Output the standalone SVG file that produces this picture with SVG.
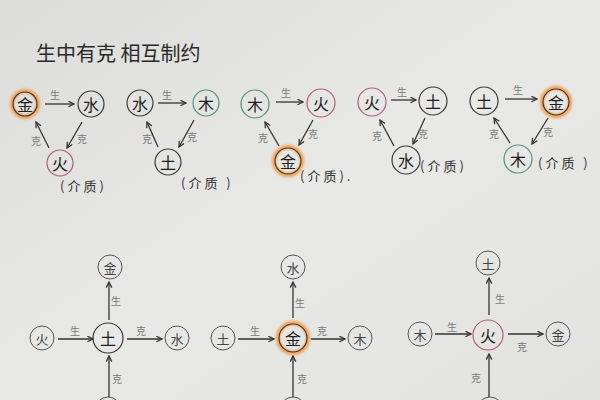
<svg xmlns="http://www.w3.org/2000/svg" width="600" height="400" viewBox="0 0 600 400">
<defs>
<linearGradient id="bg" x1="0" y1="0" x2="1" y2="1">
<stop offset="0" stop-color="#dcdcda"/>
<stop offset="0.5" stop-color="#e8e8e6"/>
<stop offset="1" stop-color="#e2e2e0"/>
</linearGradient>
<marker id="ah" viewBox="0 0 10 10" refX="9" refY="5" markerWidth="7" markerHeight="7" orient="auto" markerUnits="userSpaceOnUse">
<path d="M1,1 L9,5 L1,9" fill="none" stroke="#333" stroke-width="1.8"/>
</marker>
<filter id="glow" x="-50%" y="-50%" width="200%" height="200%"><feGaussianBlur stdDeviation="1.2"/></filter>
</defs>
<style>
.n{fill:none;stroke:#3a3a3a;stroke-width:1.2}
.nl{fill:none;stroke:#555;stroke-width:1}
.fire{stroke:#b25d78}
.wood{stroke:#4f9479}
.halo{fill:none;stroke:#f2a65a;stroke-width:4.5;filter:url(#glow)}
.t{font-family:"Noto Sans CJK SC","Noto Sans CJK JP",sans-serif;fill:#1e1e1e;text-anchor:middle;dominant-baseline:central}
.big{font-size:16px}
.sm{font-size:13px;fill:#444}
.lab{font-family:"Noto Sans CJK SC",sans-serif;font-size:10px;fill:#7a7a7a;text-anchor:middle;dominant-baseline:central}
.note{font-family:"Noto Sans CJK SC",sans-serif;font-size:13px;fill:#333;letter-spacing:3px}
.title{font-family:"Noto Sans CJK SC",sans-serif;font-size:20px;fill:#2a2a2a}
.c line{stroke:#333;stroke-width:1.3;marker-end:url(#ah)}
</style>
<rect width="600" height="400" fill="url(#bg)"/>
<text class="title" x="36" y="61">生中有克 相互制约</text>

<!-- Top row diagram 1 -->
<g id="d1-jin"><circle class="halo" cx="25" cy="104" r="13"/><circle class="n" cx="25" cy="104" r="12"/><text class="t big" x="25" y="104">金</text></g>
<g id="d1-shui"><circle class="n" cx="91" cy="104" r="13"/><text class="t big" x="91" y="104">水</text></g>
<g id="d1-huo"><circle class="n fire" cx="60" cy="163" r="13"/><text class="t big" x="60" y="163">火</text></g>
<text class="note" x="60" y="191">(介质)</text>

<!-- diagram 2 -->
<g id="d2-shui"><circle class="n" cx="140" cy="103" r="13"/><text class="t big" x="140" y="103">水</text></g>
<g id="d2-mu"><circle class="n wood" cx="206" cy="103" r="13"/><text class="t big" x="206" y="103">木</text></g>
<g id="d2-tu"><circle class="n" cx="168" cy="162" r="13"/><text class="t big" x="168" y="162">土</text></g>
<text class="note" x="181" y="188">(介质 )</text>

<!-- diagram 3 -->
<g id="d3-mu"><circle class="n wood" cx="255" cy="104" r="14"/><text class="t big" x="255" y="104">木</text></g>
<g id="d3-huo"><circle class="n fire" cx="321" cy="103" r="14"/><text class="t big" x="321" y="103">火</text></g>
<g id="d3-jin"><circle class="halo" cx="288" cy="161" r="14"/><circle class="n" cx="288" cy="161" r="13"/><text class="t big" x="288" y="161">金</text></g>
<text class="note" x="300" y="181">(介质).</text>

<!-- diagram 4 -->
<g id="d4-huo"><circle class="n fire" cx="372" cy="102" r="14"/><text class="t big" x="372" y="102">火</text></g>
<g id="d4-tu"><circle class="n" cx="433" cy="101" r="14"/><text class="t big" x="433" y="101">土</text></g>
<g id="d4-shui"><circle class="n" cx="406" cy="160" r="14"/><text class="t big" x="406" y="160">水</text></g>
<text class="note" x="420" y="171">(介质)</text>

<!-- diagram 5 -->
<g id="d5-tu"><circle class="n" cx="484" cy="101" r="14"/><text class="t big" x="484" y="101">土</text></g>
<g id="d5-jin"><circle class="halo" cx="556" cy="102" r="14"/><circle class="n" cx="556" cy="102" r="13"/><text class="t big" x="556" y="102">金</text></g>
<g id="d5-mu"><circle class="n wood" cx="518" cy="159" r="14"/><text class="t big" x="518" y="159">木</text></g>
<text class="note" x="538" y="168">(介质 )</text>

<!-- Bottom row A -->
<g id="a-tu"><circle class="n" cx="108" cy="338" r="15"/><text class="t big" x="108" y="338">土</text></g>
<g id="a-jin"><circle class="nl" cx="110" cy="267" r="12"/><text class="t sm" x="110" y="267">金</text></g>
<g id="a-huo"><circle class="nl" cx="42" cy="338" r="12"/><text class="t sm" x="42" y="338">火</text></g>
<g id="a-shui"><circle class="nl" cx="177" cy="338" r="12"/><text class="t sm" x="177" y="338">水</text></g>
<g id="a-bottom"><circle class="nl" cx="108" cy="410" r="13"/></g>

<!-- Bottom row B -->
<g id="b-jin"><circle class="halo" cx="293" cy="338" r="15"/><circle class="n" cx="293" cy="338" r="14"/><text class="t big" x="293" y="338">金</text></g>
<g id="b-shui"><circle class="nl" cx="293" cy="267" r="12"/><text class="t sm" x="293" y="267">水</text></g>
<g id="b-tu"><circle class="nl" cx="223" cy="338" r="12"/><text class="t sm" x="223" y="338">土</text></g>
<g id="b-mu"><circle class="nl" cx="360" cy="338" r="12"/><text class="t sm" x="360" y="338">木</text></g>
<g id="b-bottom"><circle class="nl" cx="293" cy="410" r="13"/></g>

<!-- Bottom row C -->
<g id="c-huo"><circle class="n fire" cx="488" cy="335" r="15"/><text class="t big" x="488" y="335">火</text></g>
<g id="c-tu"><circle class="nl" cx="488" cy="263" r="12"/><text class="t sm" x="488" y="263">土</text></g>
<g id="c-mu"><circle class="nl" cx="420" cy="334" r="12"/><text class="t sm" x="420" y="334">木</text></g>
<g id="c-jin"><circle class="nl" cx="558" cy="334" r="12"/><text class="t sm" x="558" y="334">金</text></g>
<g id="c-bottom"><circle class="nl" cx="490" cy="410" r="13"/></g>

<g id="connectors" class="c">
<!-- d1 -->
<line x1="45" y1="104" x2="74" y2="104"/>
<line x1="82" y1="122" x2="67" y2="148"/>
<line x1="49" y1="148" x2="36" y2="122"/>
<!-- d2 -->
<line x1="158" y1="103" x2="186" y2="103"/>
<line x1="194" y1="120" x2="179" y2="147"/>
<line x1="158" y1="147" x2="147" y2="122"/>
<!-- d3 -->
<line x1="276" y1="102" x2="303" y2="102"/>
<line x1="313" y1="120" x2="299" y2="145"/>
<line x1="279" y1="146" x2="265" y2="122"/>
<!-- d4 -->
<line x1="391" y1="100" x2="416" y2="100"/>
<line x1="425" y1="118" x2="413" y2="144"/>
<line x1="394" y1="146" x2="380" y2="120"/>
<!-- d5 -->
<line x1="505" y1="99" x2="537" y2="99"/>
<line x1="548" y1="118" x2="532" y2="144"/>
<line x1="510" y1="143" x2="494" y2="118"/>
<!-- A -->
<line x1="58" y1="339" x2="93" y2="339"/>
<line x1="127" y1="339" x2="162" y2="339"/>
<line x1="109" y1="320" x2="109" y2="282"/>
<line x1="109" y1="397" x2="109" y2="356"/>
<!-- B -->
<line x1="238" y1="339" x2="274" y2="339"/>
<line x1="311" y1="339" x2="345" y2="339"/>
<line x1="293" y1="318" x2="293" y2="282"/>
<line x1="293" y1="397" x2="293" y2="356"/>
<!-- C -->
<line x1="435" y1="334" x2="471" y2="334"/>
<line x1="508" y1="334" x2="543" y2="334"/>
<line x1="489" y1="315" x2="489" y2="278"/>
<line x1="489" y1="397" x2="489" y2="354"/>
</g>

<g id="labels">
<text class="lab" x="55" y="94">生</text>
<text class="lab" x="82" y="138">克</text>
<text class="lab" x="36" y="140">克</text>
<text class="lab" x="167" y="94">生</text>
<text class="lab" x="192" y="136">克</text>
<text class="lab" x="147" y="138">克</text>
<text class="lab" x="286" y="92">生</text>
<text class="lab" x="313" y="133">克</text>
<text class="lab" x="263" y="137">克</text>
<text class="lab" x="402" y="91">生</text>
<text class="lab" x="423" y="133">克</text>
<text class="lab" x="377" y="135">克</text>
<text class="lab" x="518" y="89">生</text>
<text class="lab" x="548" y="131">克</text>
<text class="lab" x="494" y="133">克</text>
<text class="lab" x="75" y="330">生</text>
<text class="lab" x="141" y="330">克</text>
<text class="lab" x="116" y="300">生</text>
<text class="lab" x="117" y="378">克</text>
<text class="lab" x="255" y="330">生</text>
<text class="lab" x="322" y="330">克</text>
<text class="lab" x="300" y="302">生</text>
<text class="lab" x="302" y="378">克</text>
<text class="lab" x="452" y="326">生</text>
<text class="lab" x="522" y="346">克</text>
<text class="lab" x="500" y="298">生</text>
<text class="lab" x="476" y="377">克</text>
</g>
</svg>
